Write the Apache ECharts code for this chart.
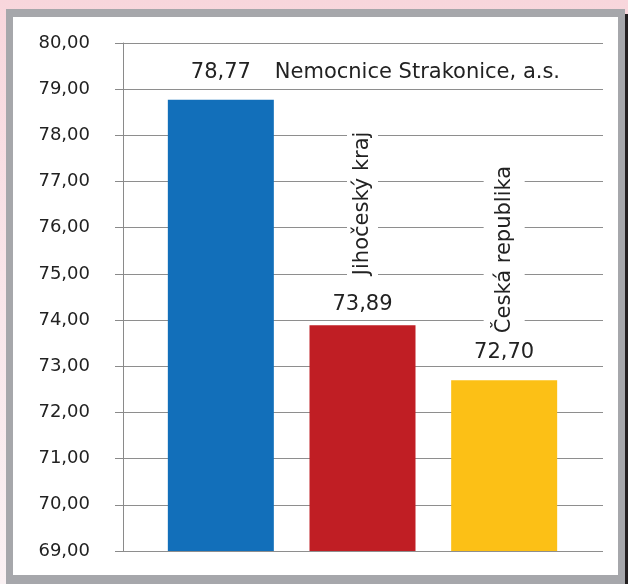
<!DOCTYPE html>
<html>
<head>
<meta charset="utf-8">
<script src="https://cdn.jsdelivr.net/npm/echarts@6/dist/echarts.min.js"></script>
<style>
  html, body { margin: 0; padding: 0; width: 628px; height: 584px; overflow: hidden; }
  body { background: linear-gradient(to bottom, #f8d6dc 0%, #f9e6ea 50%, #faf1f3 100%); position: relative; }
  #frame { position: absolute; left: 6px; top: 9px; width: 619px; height: 575px; background: #a6a7ab; }
  #inner { position: absolute; left: 13px; top: 17px; width: 605px; height: 558px; background: #ffffff; }
  #dark { position: absolute; left: 625px; top: 14px; width: 3px; height: 570px; background: #231f20; }
  #chart { position: absolute; left: 0; top: 0; width: 628px; height: 584px; }
</style>
</head>
<body>
<div id="frame"></div>
<div id="inner"></div>
<div id="dark"></div>
<div id="chart"></div>
<script>
const categories = ['Nemocnice Strakonice, a.s.', 'Jihočeský kraj', 'Česká republika'];
const values = [78.77, 73.89, 72.70];
const barColors = ['#126fba', '#c01e24', '#fcc016'];
const yMin = 69, yMax = 80, yStep = 1;

const fmt = v => v.toFixed(2).replace('.', ',');
const FONT = 'DejaVu Sans';

const chart = echarts.init(document.getElementById('chart'), null, { renderer: 'canvas' });

const valueData = values.map((v, i) => ({
  value: v,
  itemStyle: { color: barColors[i] },
  label: { distance: i === 1 ? 10 : 17 }
}));

const nameData = values.map((v, i) => {
  if (i === 0) {
    return { value: v, label: { position: 'top', distance: 17, align: 'left', offset: [54, 0], rotate: 0,
      backgroundColor: 'transparent', padding: 0 } };
  }
  return { value: v, label: { position: 'top', distance: i === 1 ? 50 : 47, rotate: 90,
    align: 'left', verticalAlign: 'middle',
    backgroundColor: '#ffffff', padding: i === 1 ? [5, 0, 5, 0] : [10, 0, 10, 0] } };
});

chart.setOption({
  animation: false,
  backgroundColor: 'transparent',
  textStyle: { fontFamily: FONT },
  grid: [
    { left: 123, right: 25, top: 43, bottom: 33 },
    { left: 150, right: 53, top: 43, bottom: 33 }
  ],
  xAxis: [
    { gridIndex: 0, type: 'category', data: categories, show: false },
    { gridIndex: 1, type: 'category', data: categories, show: false }
  ],
  yAxis: [
    {
      gridIndex: 0, type: 'value', min: yMin, max: yMax, interval: yStep,
      axisLine: { show: true, lineStyle: { color: '#8a8a8a', width: 1 } },
      axisTick: { show: true, length: 8, lineStyle: { color: '#8a8a8a' } },
      axisLabel: { formatter: fmt, fontFamily: FONT, fontSize: 18, color: '#222222', margin: 33 },
      splitLine: { show: true, lineStyle: { color: '#8e8e8e', width: 1 } }
    },
    { gridIndex: 1, type: 'value', min: yMin, max: yMax, interval: yStep, show: false, splitLine: { show: false } }
  ],
  series: [
    {
      type: 'bar', xAxisIndex: 1, yAxisIndex: 1,
      data: valueData, barWidth: 106, barGap: '-100%',
      label: { show: true, position: 'top', formatter: p => fmt(p.value),
        fontFamily: FONT, fontSize: 21, color: '#222222' }
    },
    {
      type: 'bar', xAxisIndex: 1, yAxisIndex: 1,
      data: nameData, barWidth: 106, barGap: '-100%',
      itemStyle: { color: 'rgba(0,0,0,0)' },
      silent: true,
      label: { show: true, formatter: p => categories[p.dataIndex],
        fontFamily: FONT, fontSize: 21, color: '#222222' }
    }
  ]
});
</script>
</body>
</html>
